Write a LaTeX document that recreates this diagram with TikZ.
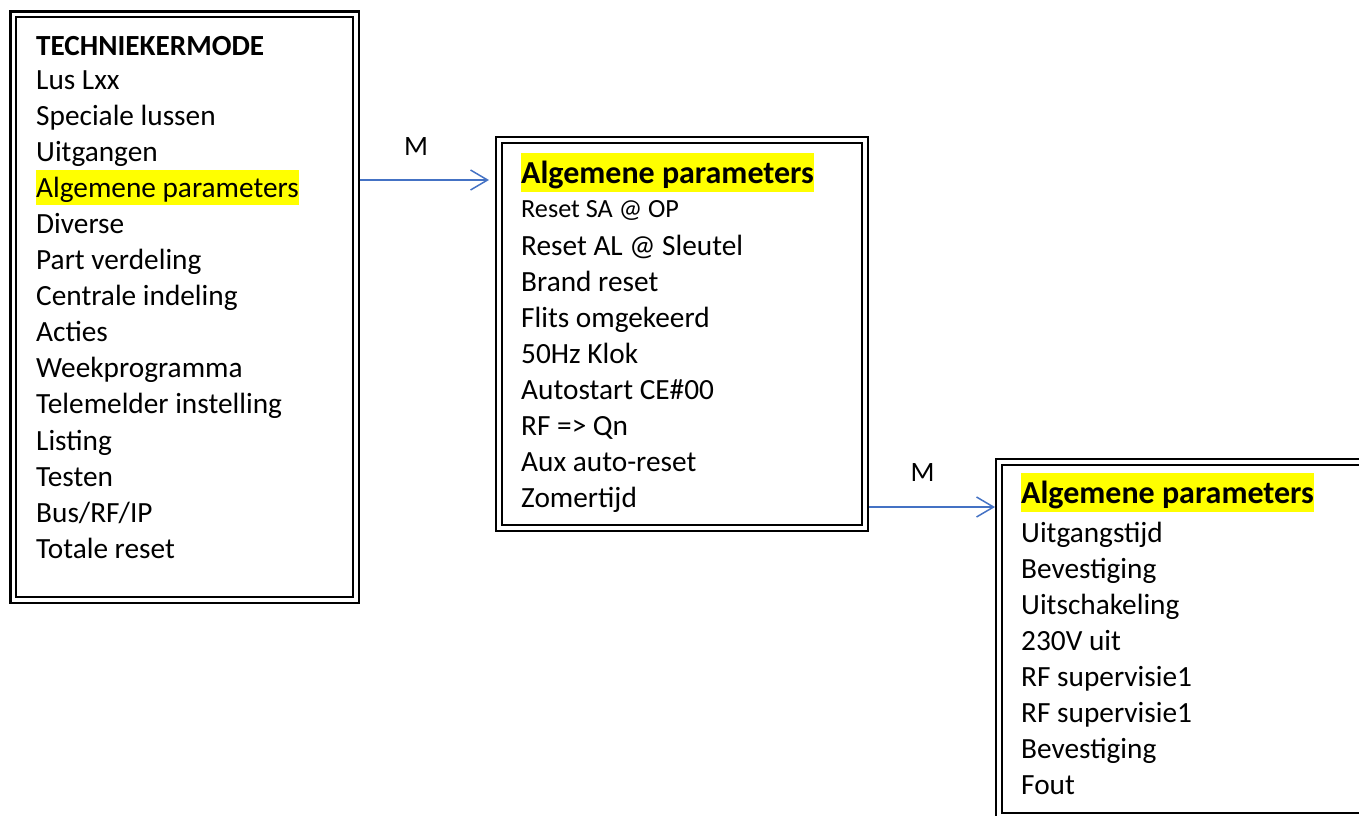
\documentclass[tikz,border=0pt]{standalone}
\usepackage{fontspec}
\setmainfont{Carlito}
\usetikzlibrary{arrows.meta}
\definecolor{arrowblue}{HTML}{4472C4}
\definecolor{hl}{HTML}{FFFF00}
\begin{document}
\begin{tikzpicture}[x=1pt,y=-1pt,
  frame/.style={draw=black, double=white, line width=2.2pt, double distance=3.6pt,
                rectangle, inner sep=0pt, anchor=north west},
  item/.style={anchor=base west, inner sep=0pt, font=\fontsize{29.3}{35}\selectfont},
  smallitem/.style={anchor=base west, inner sep=0pt, font=\fontsize{26.2}{31}\selectfont},
  title/.style={anchor=base west, inner sep=0pt, font=\fontsize{29.2}{35}\selectfont\bfseries},
  hlitem/.style={item, fill=hl, text height=27.6pt, text depth=7.8pt},
  head/.style={anchor=base west, inner sep=0pt, font=\fontsize{32}{39}\selectfont\bfseries,
               fill=hl, text height=30.5pt, text depth=8.6pt},
  lbl/.style={anchor=base, inner sep=0pt, font=\fontsize{28}{33}\selectfont},
  conn/.style={draw=arrowblue, line width=1.5pt, -{Straight Barb[length=17pt,width=20pt]}}
]
\useasboundingbox (0,0) rectangle (1359,815);
\clip (0,0) rectangle (1359,815);

% frames
\node[frame, minimum width=342.5pt, minimum height=585.75pt] (box1) at (12.25,13.25) {};
\node[frame, minimum width=366pt, minimum height=388.25pt] (box2) at (498,138.75) {};
\node[frame, minimum width=420pt, minimum height=354pt] (box3) at (998,461) {};

% box 1 texts
\node[title] (t0) at (36,55) {TECHNIEKERMODE};
\node[item] (t1) at (36,89) {Lus Lxx};
\node[item] (t2) at (36,125.1) {Speciale lussen};
\node[item] (t3) at (36,161.2) {Uitgangen};
\node[hlitem] (t4) at (36,197.3) {Algemene parameters};
\node[item] (t5) at (36,233.4) {Diverse};
\node[item] (t6) at (36,269.5) {Part verdeling};
\node[item] (t7) at (36,305.6) {Centrale indeling};
\node[item] (t8) at (36,341.7) {Acties};
\node[item] (t9) at (36,377.8) {Weekprogramma};
\node[item] (t10) at (36,413.9) {Telemelder instelling};
\node[item] (t11) at (36,450) {Listing};
\node[item] (t12) at (36,486.1) {Testen};
\node[item] (t13) at (36,522.2) {Bus/RF/IP};
\node[item] (t14) at (36,558.3) {Totale reset};

% box 2 texts
\node[head] (u0) at (521,183) {Algemene parameters};
\node[smallitem] (u1) at (521,217) {Reset SA @ OP};
\node[item] (u2) at (521,255) {Reset AL @ Sleutel};
\node[item] (u3) at (521,291) {Brand reset};
\node[item] (u4) at (521,327) {Flits omgekeerd};
\node[item] (u5) at (521,363) {50Hz Klok};
\node[item] (u6) at (521,399) {Autostart CE\#00};
\node[item] (u7) at (521,435) {RF => Qn};
\node[item] (u8) at (521,471) {Aux auto-reset};
\node[item] (u9) at (521,507) {Zomertijd};

% box 3 texts
\node[head] (v0) at (1021,503) {Algemene parameters};
\node[item] (v1) at (1021,542) {Uitgangstijd};
\node[item] (v2) at (1021,578) {Bevestiging};
\node[item] (v3) at (1021,614) {Uitschakeling};
\node[item] (v4) at (1021,650) {230V uit};
\node[item] (v5) at (1021,686) {RF supervisie1};
\node[item] (v6) at (1021,722) {RF supervisie1};
\node[item] (v7) at (1021,758) {Bevestiging};
\node[item] (v8) at (1021,794) {Fout};

% connectors
\coordinate (r1) at (0,180);
\coordinate (r2) at (0,507);
\draw[conn, shorten <=2.75pt, shorten >=9pt] (box1.east |- r1) -- (box2.west |- r1);
\draw[conn, shorten <=3pt, shorten >=3pt] (box2.east |- r2) -- (box3.west |- r2);
\node[lbl] (m1) at (416,155) {M};
\node[lbl] (m2) at (922.5,481) {M};
\end{tikzpicture}
\end{document}
